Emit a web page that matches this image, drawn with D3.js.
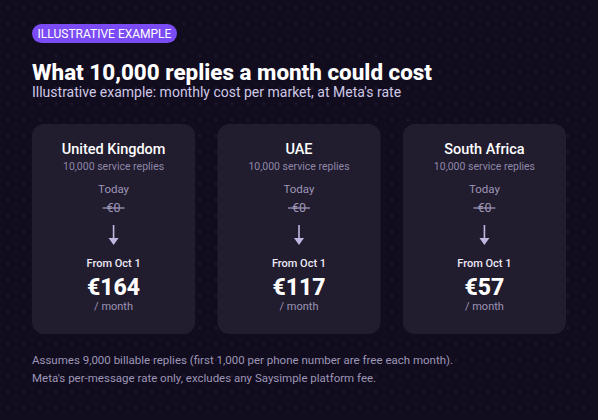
<!DOCTYPE html><html><head><meta charset="utf-8"><script src="https://cdn.jsdelivr.net/npm/d3@7"></script>
<style>body{margin:0;background:#110c1e}svg{display:block}text{font-family:Roboto,sans-serif}</style></head><body><svg id="c" width="598" height="420"></svg><script>
const markets=["United Kingdom","UAE","South Africa"];
const costs=[164,117,57];
const todayCosts=[0,0,0];
const W=598,H=420,svg=d3.select("#c");
svg.append("rect").attr("width",W).attr("height",H).attr("fill","#110c1e");
const dots=[];for(let x=8;x<W;x+=16)for(let y=8;y<H;y+=16)dots.push([x,y]);
svg.append("g").selectAll("circle").data(dots).join("circle").attr("cx",d=>d[0]).attr("cy",d=>d[1]).attr("r",0.9).attr("fill","#2a2440");
svg.append("rect").attr("x",32).attr("y",24).attr("width",145).attr("height",19).attr("rx",9.5).attr("fill","#7b4cf5");
svg.append("text").attr("x",104.5).attr("y",38).attr("text-anchor","middle").attr("fill","#fff").attr("font-size",12).text("ILLUSTRATIVE EXAMPLE");
svg.append("text").attr("x",32).attr("y",80).attr("fill","#fff").attr("font-size",22).attr("font-weight",800).attr("font-family","Inter,sans-serif").attr("textLength",400).attr("lengthAdjust","spacingAndGlyphs").text("What 10,000 replies a month could cost");
svg.append("text").attr("x",32).attr("y",97).attr("fill","#cfc8e6").attr("font-size",14).text("Illustrative example: monthly cost per market, at Meta's rate");
const x=d3.scaleBand().domain(markets).range([32,566]).paddingInner(0.12).paddingOuter(0);
const g=svg.append("g").selectAll("g").data(markets).join("g").attr("transform",d=>`translate(${x(d)},124)`);
const bw=x.bandwidth(),cx=bw/2;
g.append("rect").attr("width",bw).attr("height",210).attr("rx",12).attr("fill","#211c2e");
g.append("text").attr("x",cx).attr("y",30).attr("text-anchor","middle").attr("fill","#fff").attr("font-size",14.5).attr("font-weight",500).text(d=>d);
g.append("text").attr("x",cx).attr("y",46).attr("text-anchor","middle").attr("fill","#8f88a8").attr("font-size",10.5).text("10,000 service replies");
g.append("text").attr("x",cx).attr("y",69).attr("text-anchor","middle").attr("fill","#9d96b6").attr("font-size",11.5).text("Today");
g.append("text").attr("x",cx).attr("y",88).attr("text-anchor","middle").attr("fill","#9d96b6").attr("font-size",12.5).text((d,i)=>"€"+todayCosts[i]);
g.append("line").attr("x1",cx-11).attr("x2",cx+11).attr("y1",84).attr("y2",84).attr("stroke","#9d96b6").attr("stroke-width",1.3);
g.append("line").attr("x1",cx).attr("x2",cx).attr("y1",101).attr("y2",117).attr("stroke","#c0b7e0").attr("stroke-width",1.6);
g.append("path").attr("d",`M${cx-5},114L${cx+5},114L${cx},121Z`).attr("fill","#c0b7e0");
g.append("text").attr("x",cx).attr("y",143).attr("text-anchor","middle").attr("fill","#ece8f6").attr("font-size",11).attr("font-weight",500).text("From Oct 1");
g.append("text").attr("x",cx).attr("y",171).attr("text-anchor","middle").attr("fill","#fff").attr("font-size",23).attr("font-weight",800).attr("font-family","Inter,sans-serif").text((d,i)=>"€"+costs[i]);
g.append("text").attr("x",cx).attr("y",186).attr("text-anchor","middle").attr("fill","#9d96b6").attr("font-size",11).text("/ month");
svg.append("text").attr("x",32).attr("y",364).attr("fill","#9d96b6").attr("font-size",11.5).text("Assumes 9,000 billable replies (first 1,000 per phone number are free each month).");
svg.append("text").attr("x",32).attr("y",382).attr("fill","#9d96b6").attr("font-size",11.5).text("Meta's per-message rate only, excludes any Saysimple platform fee.");
</script></body></html>
